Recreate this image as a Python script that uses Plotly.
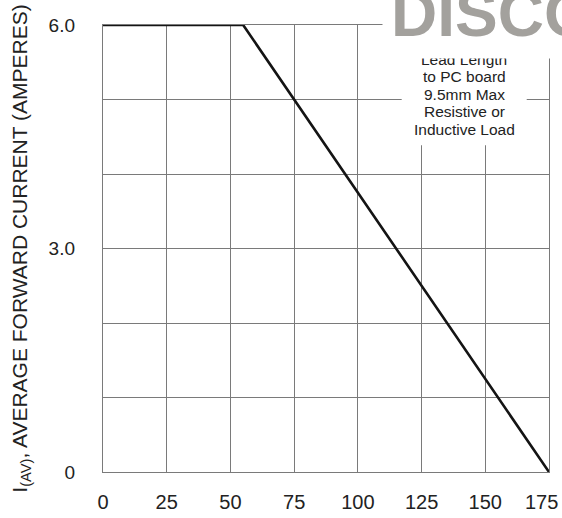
import plotly.graph_objects as go

# Data
temp_c = [0, 55, 175]
current_a = [6.0, 6.0, 0.0]
x_ticks = [0, 25, 50, 75, 100, 125, 150, 175]
y_tickvals = [0, 3, 6]
y_ticktext = ["0", "3.0", "6.0"]
note_lines = ["Lead Length", "to PC board", "9.5mm Max", "Resistive or", "Inductive Load"]
watermark = "DISCONTINUED"

FONT = "Liberation Sans, Arial, sans-serif"
GRID = "#7a7a7a"
TXT = "#222222"

# pixel helpers for layout placement (plot area: x 103.3..549.3, y 472..24.7)
def ypx(py):
    return (472.0 - py) / 74.55

def xpx(px):
    return (px - 103.3) / 2.5486

fig = go.Figure()
fig.add_trace(go.Scatter(
    x=temp_c, y=current_a, mode="lines",
    line=dict(color="#141414", width=2.6),
    cliponaxis=False, showlegend=False, hoverinfo="skip",
))

fig.update_layout(
    width=562, height=518,
    margin=dict(l=103, r=13, t=25, b=46),
    paper_bgcolor="white", plot_bgcolor="white",
    font=dict(family=FONT, color=TXT),
    showlegend=False,
)

fig.update_xaxes(
    range=[0, 175], tickvals=x_ticks[:-1], ticktext=[str(v) for v in x_ticks[:-1]],
    showgrid=True, gridcolor=GRID, gridwidth=1.2,
    showline=True, linecolor=GRID, linewidth=1.4, mirror=True,
    zeroline=True, zerolinecolor="#1a1a1a", zerolinewidth=1.8,
    ticks="", ticklabelstandoff=12, automargin=False,
    tickfont=dict(size=20, family=FONT, color=TXT),
)
fig.update_yaxes(
    range=[0, 6], tickvals=y_tickvals, ticktext=y_ticktext,
    showgrid=True, gridcolor=GRID, gridwidth=1.2,
    minor=dict(dtick=1, showgrid=True, gridcolor=GRID, gridwidth=1.2),
    showline=True, linecolor=GRID, linewidth=1.4, mirror=True,
    zeroline=False,
    ticks="", ticklabelstandoff=23, automargin=False,
    tickfont=dict(size=19, family=FONT, color=TXT),
    title=dict(text="I<sub>(AV)</sub>, AVERAGE FORWARD CURRENT (AMPERES)",
               font=dict(size=21, family=FONT, color=TXT), standoff=15),
)

# last x tick label, nudged inside the page
fig.add_annotation(
    x=x_ticks[-1], y=0, xref="x", yref="y", xanchor="right", yanchor="middle",
    xshift=11, yshift=-30, text=str(x_ticks[-1]), showarrow=False,
    font=dict(size=20, family=FONT, color=TXT),
)

# white background of the note
fig.add_shape(
    type="rect", xref="x", yref="y", layer="above",
    x0=xpx(402), x1=xpx(527), y0=ypx(145), y1=ypx(30),
    fillcolor="white", line=dict(width=0),
)
for i, line in enumerate(note_lines):
    fig.add_annotation(
        x=xpx(464.5), y=ypx(59 + 17.5 * i), xref="x", yref="y",
        xanchor="center", yanchor="middle", text=line, showarrow=False,
        font=dict(size=15.5, family=FONT, color=TXT),
    )

# Watermark clipped at the top (white box covers top of the note)
fig.add_annotation(
    x=(382 - 103.3) / 446.0, y=(472 + 9) / 447.3, xref="paper", yref="paper",
    xanchor="left", yanchor="top",
    text="<b>" + watermark + "</b>", showarrow=False,
    width=420, height=50, valign="bottom", align="left",
    bgcolor="white", borderpad=8,
    font=dict(size=64, family=FONT, color="#a3a19d"),
)

fig.write_html("out.html")
